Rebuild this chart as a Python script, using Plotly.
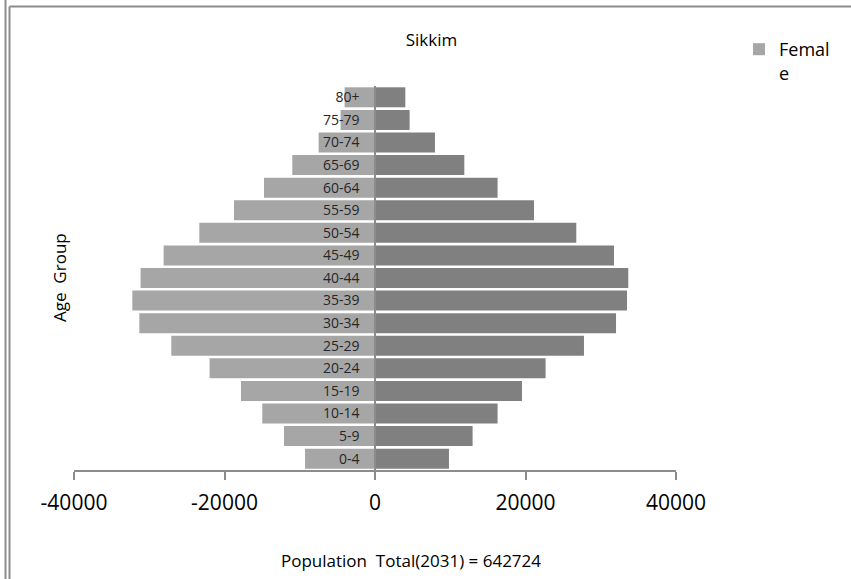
import plotly.graph_objects as go

age_groups = ["0-4", "5-9", "10-14", "15-19", "20-24", "25-29", "30-34", "35-39",
              "40-44", "45-49", "50-54", "55-59", "60-64", "65-69", "70-74", "75-79", "80+"]
# left side (plotted as negative)
left_values = [-9300, -12090, -14980, -17810, -21980, -27070, -31320, -32250,
               -31150, -28090, -23350, -18740, -14750, -10990, -7490, -4570, -4040]
# right side
right_values = [9830, 12970, 16290, 19530, 22670, 27770, 32030, 33490,
                33660, 31760, 26750, 21130, 16290, 11870, 7970, 4600, 4030]
x_ticks = [-40000, -20000, 0, 20000, 40000]

W, H = 851, 579
L, R, T, B = 74, 175, 86, 109
PW = W - L - R
PH = H - T - B


def px(x):
    return (x - L) / PW


def py(y):
    return (H - B - y) / PH


fig = go.Figure()
fig.add_trace(go.Bar(
    y=age_groups, x=left_values, orientation="h", name="Femal<br>e",
    marker=dict(color="#a6a6a6", line=dict(width=0)), showlegend=True,
))
fig.add_trace(go.Bar(
    y=age_groups, x=right_values, orientation="h", name="Male",
    marker=dict(color="#808080", line=dict(width=0)), showlegend=False,
))

line_col = "#8c8c8c"
shapes = [
    dict(type="line", xref="paper", yref="paper", x0=px(5.5), x1=px(5.5), y0=py(0), y1=py(H),
         line=dict(color=line_col, width=2)),
    dict(type="line", xref="paper", yref="paper", x0=px(9.5), x1=px(9.5), y0=py(6.5), y1=py(H),
         line=dict(color=line_col, width=2)),
    dict(type="line", xref="paper", yref="paper", x0=px(9.5), x1=px(W), y0=py(6.5), y1=py(6.5),
         line=dict(color=line_col, width=2)),
]

font_family = "Open Sans, DejaVu Sans, sans-serif"

fig.update_layout(
    width=W, height=H,
    margin=dict(l=L, r=R, t=T, b=B, autoexpand=False),
    paper_bgcolor="white", plot_bgcolor="white",
    barmode="overlay", bargap=0.115,
    font=dict(family=font_family, color="#000000"),
    title=dict(text="Sikkim", x=431.5 / W, xref="container", xanchor="center",
               y=1 - 40 / H, yref="container", yanchor="middle",
               font=dict(size=17, color="#000000")),
    xaxis=dict(range=[-40000, 40000], tickvals=x_ticks, ticktext=[str(v) for v in x_ticks],
               showgrid=False, zeroline=False, showline=True, linecolor="#8c8c8c", linewidth=1.5,
               ticks="outside", ticklen=8, tickcolor="#8c8c8c", tickwidth=1.5,
               ticklabelstandoff=5,
               tickfont=dict(size=21, color="#000000")),
    yaxis=dict(type="category", categoryorder="array", categoryarray=age_groups,
               range=[-0.5, len(age_groups) - 0.5],
               anchor="free", position=0.5, showgrid=False, zeroline=False,
               showline=True, linecolor="#8c8c8c", linewidth=1.5, ticks="",
               ticklabelstandoff=12, tickfont=dict(size=14, color="#262626")),
    legend=dict(x=px(739), xanchor="left", y=py(31), yanchor="top",
                font=dict(size=18, color="#000000"), valign="top",
                bgcolor="rgba(0,0,0,0)"),
    shapes=shapes,
    annotations=[
        dict(text="Age\u00a0 Group", x=px(59), y=py(278), xref="paper", yref="paper",
             showarrow=False, textangle=-90, font=dict(size=17, color="#000000"),
             xanchor="center", yanchor="middle"),
        dict(text="Population\u00a0 Total(2031) = 642724", x=px(411), y=py(560),
             xref="paper", yref="paper", showarrow=False,
             font=dict(size=17, color="#000000"), xanchor="center", yanchor="middle"),
    ],
)

fig.write_html("out.html", config={"displayModeBar": False},
               post_script="document.body.style.margin='0px';")
